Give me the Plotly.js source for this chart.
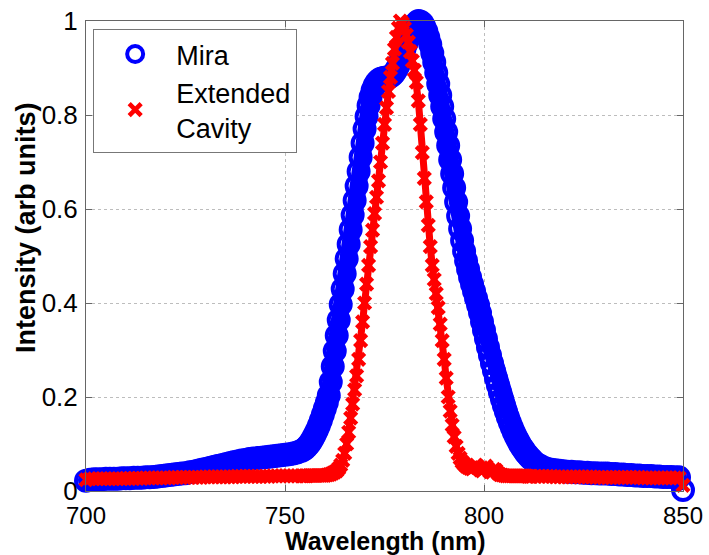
<!DOCTYPE html>
<html>
<head>
<meta charset="utf-8">
<script src="https://cdn.plot.ly/plotly-3.0.1.min.js"></script>
<style>html,body{margin:0;padding:0;background:#fff;}#chart{width:709px;height:555px;}</style>
</head>
<body>
<div id="chart"></div>
<script>
// Wavelength grid (nm)
const wavelength = [
700,701,702,703,704,705,706,707,708,709,710,711,712,713,714,715,716,717,718,719,
720,721,722,723,724,725,726,727,728,729,730,731,732,733,734,735,736,737,738,739,
740,741,742,743,744,745,746,747,748,749,750,751,752,753,754,
754.5,755,755.5,756,756.5,757,757.5,758,758.5,759,759.5,760,760.5,761,761.5,762,762.5,763,763.5,764,
764.5,765,765.5,766,766.5,767,767.5,768,768.5,769,769.5,770,770.5,771,771.5,772,772.5,773,773.5,774,
774.5,775,775.5,776,776.5,777,777.5,778,778.5,779,779.5,780,780.5,781,781.5,782,782.5,783,783.5,784,
784.5,785,785.5,786,786.5,787,787.5,788,788.5,789,789.5,790,790.5,791,791.5,792,792.5,793,793.5,794,
794.5,795,795.5,796,796.5,797,797.5,798,798.5,799,799.5,800,800.5,801,801.5,802,802.5,803,803.5,804,
804.5,805,805.5,806,806.5,807,807.5,808,808.5,809,809.5,810,810.5,811,811.5,812,
813,814,815,816,817,818,819,820,821,822,823,824,825,826,827,828,829,830,831,832,
833,834,835,836,837,838,839,840,841,842,843,844,845,846,847,848,849,850
];

// Mira intensity (arb units)
const miraIntensity = [
0.022,0.024,0.025,0.025,0.025,0.026,0.026,0.026,0.026,0.027,0.027,0.027,0.028,0.028,0.028,0.029,0.029,0.030,0.031,0.032,
0.033,0.034,0.035,0.036,0.037,0.038,0.040,0.041,0.043,0.045,0.047,0.049,0.051,0.053,0.055,0.057,0.059,0.061,0.063,0.065,
0.066,0.068,0.069,0.070,0.071,0.072,0.073,0.074,0.075,0.076,0.077,0.078,0.080,0.082,0.085,
0.087,0.090,0.094,0.099,0.105,0.112,0.120,0.129,0.139,0.150,0.162,0.175,0.188,0.203,0.232,0.265,0.298,0.331,0.364,0.397,
0.430,0.462,0.494,0.525,0.556,0.587,0.618,0.649,0.680,0.710,0.740,0.770,0.797,0.820,0.838,0.852,0.862,0.869,0.874,0.877,
0.878,0.879,0.880,0.880,0.882,0.885,0.890,0.897,0.905,0.915,0.927,0.940,0.952,0.963,0.973,0.982,0.990,0.996,1.000,0.999,
0.995,0.988,0.978,0.965,0.950,0.932,0.912,0.890,0.866,0.842,0.818,0.792,0.764,0.735,0.705,0.675,0.645,0.615,0.585,0.558,
0.533,0.510,0.490,0.472,0.455,0.440,0.425,0.410,0.396,0.379,0.360,0.342,0.324,0.306,0.289,0.272,0.256,0.240,0.225,0.210,
0.196,0.182,0.169,0.157,0.146,0.135,0.125,0.116,0.108,0.100,0.093,0.087,0.081,0.076,0.071,0.067,
0.059,0.054,0.050,0.047,0.045,0.044,0.043,0.042,0.041,0.041,0.040,0.040,0.039,0.039,0.038,0.038,0.037,0.037,0.037,0.036,
0.036,0.035,0.035,0.034,0.034,0.033,0.033,0.032,0.032,0.032,0.031,0.031,0.030,0.030,0.030,0.029,0.029,0.002
];

// Extended cavity intensity (arb units)
const extCavityIntensity = [
0.024,0.026,0.026,0.026,0.026,0.026,0.026,0.026,0.026,0.026,0.027,0.027,0.027,0.027,0.027,0.028,0.028,0.028,0.028,0.028,
0.028,0.028,0.029,0.029,0.029,0.029,0.029,0.029,0.029,0.029,0.030,0.030,0.030,0.030,0.030,0.030,0.030,0.030,0.031,0.031,
0.031,0.031,0.031,0.031,0.031,0.031,0.031,0.032,0.032,0.032,0.032,0.032,0.032,0.032,0.032,
0.032,0.032,0.032,0.033,0.033,0.033,0.033,0.033,0.033,0.033,0.033,0.033,0.034,0.035,0.036,0.038,0.040,0.043,0.048,0.055,
0.065,0.080,0.100,0.125,0.155,0.185,0.215,0.245,0.280,0.320,0.360,0.400,0.440,0.480,0.520,0.555,0.590,0.625,0.660,0.700,
0.740,0.780,0.815,0.850,0.880,0.910,0.940,0.965,0.985,1.000,0.995,0.985,0.970,0.955,0.935,0.915,0.895,0.870,0.830,0.780,
0.720,0.665,0.615,0.565,0.520,0.480,0.450,0.420,0.390,0.355,0.320,0.280,0.240,0.200,0.170,0.140,0.115,0.095,0.080,0.070,
0.062,0.057,0.053,0.050,0.048,0.047,0.050,0.055,0.050,0.045,0.043,0.047,0.053,0.047,0.041,0.040,0.046,0.044,0.038,0.035,
0.034,0.033,0.032,0.032,0.032,0.032,0.032,0.032,0.032,0.032,0.032,0.032,0.032,0.031,0.031,0.031,
0.031,0.031,0.031,0.031,0.031,0.030,0.030,0.030,0.030,0.030,0.030,0.030,0.030,0.030,0.030,0.029,0.029,0.029,0.029,0.029,
0.029,0.029,0.029,0.029,0.029,0.029,0.029,0.028,0.028,0.028,0.028,0.028,0.028,0.028,0.028,0.028,0.028,0.012
];

const seriesNames = ['Mira', 'Extended<br>Cavity'];
const xTicks = [700, 750, 800, 850];
const yTicks = [0, 0.2, 0.4, 0.6, 0.8, 1];
const yTickLabels = ['0', '0.2', '0.4', '0.6', '0.8', '1'];

const FONT = '"Liberation Sans", Arial, Helvetica, sans-serif';
const BLUE = '#0000ff', RED = '#ff0000';

const traces = [
  // dense bands (the original data are sampled far more finely than the markers)
  {x: wavelength, y: miraIntensity, type: 'scatter', mode: 'lines', showlegend: false, hoverinfo: 'skip',
   cliponaxis: false, line: {color: BLUE, width: 17}},
  {x: wavelength, y: miraIntensity, name: seriesNames[0], type: 'scatter', mode: 'markers', cliponaxis: false,
   marker: {symbol: 'circle-open', size: 20, color: BLUE, line: {color: BLUE, width: 4}}},
  {x: wavelength, y: extCavityIntensity, type: 'scatter', mode: 'lines', showlegend: false, hoverinfo: 'skip',
   cliponaxis: false, line: {color: RED, width: 7}},
  {x: wavelength, y: extCavityIntensity, name: seriesNames[1], type: 'scatter', mode: 'markers', cliponaxis: false,
   marker: {symbol: 'x-thin-open', size: 12, color: RED, line: {color: RED, width: 4.5}}}
];

const axisCommon = {
  showline: true, mirror: 'ticks', linecolor: '#666', linewidth: 1,
  ticks: 'inside', ticklen: 6, tickcolor: '#666', tickwidth: 1,
  showgrid: true, gridcolor: '#bdbdbd', griddash: 'dot', gridwidth: 1,
  zeroline: false
};

const layout = {
  width: 709, height: 555,
  margin: {l: 86, r: 26, t: 21, b: 64},
  paper_bgcolor: '#fff', plot_bgcolor: '#fff',
  showlegend: true,
  xaxis: Object.assign({}, axisCommon, {
    range: [700, 850], tickmode: 'array', tickvals: xTicks,
    ticktext: xTicks.map(String), ticklabelstandoff: 3,
    tickfont: {family: FONT, size: 24, color: '#000'}
  }),
  yaxis: Object.assign({}, axisCommon, {
    range: [0, 1], tickmode: 'array', tickvals: yTicks, ticktext: yTickLabels, ticklabelstandoff: 2,
    tickfont: {family: FONT, size: 26, color: '#000'}
  }),
  annotations: [
    {text: '<b>Wavelength (nm)</b>', xref: 'paper', yref: 'paper', x: 0.5, y: -0.106,
     xanchor: 'center', yanchor: 'middle', showarrow: false,
     font: {family: FONT, size: 25, color: '#000'}},
    {text: '<b>Intensity (arb units)</b>', textangle: -90,
     xref: 'paper', yref: 'paper', x: -0.1, y: 0.56, xanchor: 'center', yanchor: 'middle',
     showarrow: false, font: {family: FONT, size: 27, color: '#000'}}
  ],
  legend: {
    x: 0.012, y: 0.983, xanchor: 'left', yanchor: 'top',
    bgcolor: '#fff', bordercolor: '#777', borderwidth: 1,
    font: {family: FONT, size: 27, color: '#000'},
    itemwidth: 72, valign: 'middle'
  }
};

Plotly.newPlot('chart', traces, layout, {displayModeBar: false, staticPlot: true});
</script>
</body>
</html>
